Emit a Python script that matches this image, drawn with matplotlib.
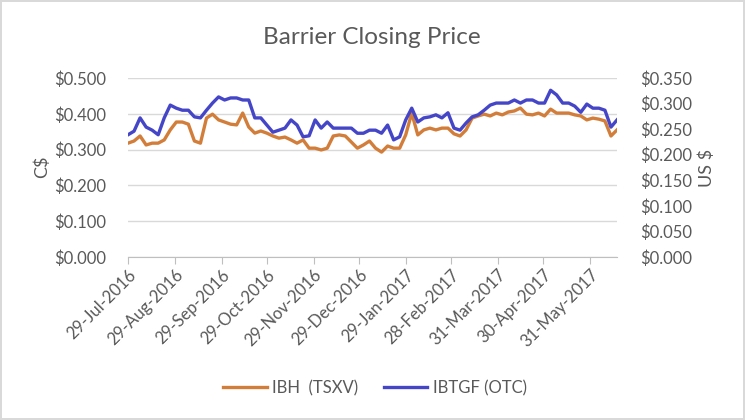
import numpy as np
import pandas as pd
import matplotlib
matplotlib.use("Agg")
import matplotlib.pyplot as plt
import matplotlib.dates as mdates
import matplotlib.ticker as mtick

plt.rcParams["font.family"] = ["Lato", "DejaVu Sans"]

dates = pd.date_range("2016-07-29", periods=82, freq="4D")

ibh_tsxv = [  # C$, left axis
    0.318, 0.324, 0.338, 0.313, 0.318, 0.318, 0.327, 0.355, 0.377, 0.377,
    0.371, 0.324, 0.318, 0.388, 0.399, 0.383, 0.377, 0.371, 0.369, 0.402,
    0.363, 0.346, 0.352, 0.346, 0.338, 0.332, 0.335, 0.327, 0.318, 0.327,
    0.304, 0.304, 0.299, 0.304, 0.338, 0.341, 0.338, 0.321, 0.304, 0.313,
    0.324, 0.304, 0.293, 0.310, 0.304, 0.304, 0.341, 0.402, 0.341, 0.355,
    0.360, 0.355, 0.360, 0.360, 0.344, 0.338, 0.355, 0.388, 0.394, 0.399,
    0.394, 0.402, 0.397, 0.405, 0.408, 0.416, 0.399, 0.397, 0.402, 0.394,
    0.413, 0.402, 0.402, 0.402, 0.397, 0.394, 0.383, 0.388, 0.385, 0.380,
    0.338, 0.355,
]

ibtgf_otc = [  # US$, right axis
    0.239, 0.246, 0.272, 0.254, 0.248, 0.239, 0.272, 0.297, 0.291, 0.287,
    0.287, 0.274, 0.272, 0.287, 0.301, 0.313, 0.307, 0.311, 0.311, 0.307,
    0.307, 0.272, 0.272, 0.258, 0.244, 0.248, 0.252, 0.268, 0.258, 0.235,
    0.237, 0.268, 0.252, 0.264, 0.252, 0.252, 0.252, 0.252, 0.242, 0.242,
    0.248, 0.248, 0.242, 0.258, 0.229, 0.235, 0.268, 0.291, 0.264, 0.272,
    0.274, 0.278, 0.272, 0.282, 0.252, 0.248, 0.262, 0.274, 0.278, 0.287,
    0.297, 0.301, 0.301, 0.301, 0.307, 0.301, 0.307, 0.307, 0.301, 0.301,
    0.326, 0.317, 0.301, 0.301, 0.295, 0.283, 0.299, 0.291, 0.291, 0.287,
    0.254, 0.268,
]

tick_dates = pd.to_datetime([
    "2016-07-29", "2016-08-29", "2016-09-29", "2016-10-29", "2016-11-29",
    "2016-12-29", "2017-01-29", "2017-02-28", "2017-03-31", "2017-04-30",
    "2017-05-31",
])

ORANGE = "#D27E3A"
BLUE = "#4545C8"
TEXT = "#595959"
GRID = "#D9D9D9"

fig = plt.figure(figsize=(7.45, 4.2), dpi=100)
fig.patch.set_edgecolor(GRID)
fig.patch.set_linewidth(1.5)
ax = fig.add_axes([128 / 745, 163 / 420, 489 / 745, 179 / 420])
ax2 = ax.twinx()

l1, = ax.plot(dates, ibh_tsxv, color=ORANGE, lw=2.4, label="IBH  (TSXV)", zorder=3)
l2, = ax2.plot(dates, ibtgf_otc, color=BLUE, lw=2.4, label="IBTGF (OTC)", zorder=3)

ax.set_ylim(0, 0.5)
ax.set_yticks(np.arange(0, 0.51, 0.1))
ax2.set_ylim(0, 0.35)
ax2.set_yticks(np.arange(0, 0.351, 0.05))
fmt = mtick.StrMethodFormatter("${x:.3f}")
ax.yaxis.set_major_formatter(fmt)
ax2.yaxis.set_major_formatter(fmt)

ax.set_xlim(dates[0], dates[-1])
ax.set_xticks(tick_dates)
ax.xaxis.set_major_formatter(mdates.DateFormatter("%d-%b-%Y"))
for lab in ax.get_xticklabels():
    lab.set_rotation(45)
    lab.set_ha("right")
    lab.set_rotation_mode("anchor")

ax.grid(axis="y", color=GRID, lw=1)
ax.set_axisbelow(True)
for a in (ax, ax2):
    for s in ("top", "left", "right"):
        a.spines[s].set_visible(False)
ax.spines["bottom"].set_color("#BFBFBF")
ax2.spines["bottom"].set_visible(False)

ax.tick_params(axis="x", colors="#BFBFBF", length=5, labelcolor=TEXT, labelsize=12, pad=2)
ax.tick_params(axis="y", length=0, labelcolor=TEXT, labelsize=12, pad=16)
ax2.tick_params(axis="y", length=0, labelcolor=TEXT, labelsize=12, pad=17)

fig.text(372 / 745, 1 - 38 / 420, "Barrier Closing Price", ha="center", va="center",
         fontsize=17.5, color=TEXT)
fig.text(42 / 745, 1 - 167 / 420, "C$", rotation=90, ha="center", va="center",
         fontsize=13, color=TEXT)
fig.text(707 / 745, 1 - 168 / 420, "US $", rotation=90, ha="center", va="center",
         fontsize=13, color=TEXT)

fig.legend([l1, l2], [l1.get_label(), l2.get_label()], loc="center",
           bbox_to_anchor=(375 / 745, 1 - 388 / 420), ncol=2, frameon=False,
           fontsize=12, labelcolor=TEXT, handlelength=2.6, columnspacing=1.5,
           handletextpad=0.35)

fig.savefig("out.png", dpi=100, edgecolor=fig.get_edgecolor())
